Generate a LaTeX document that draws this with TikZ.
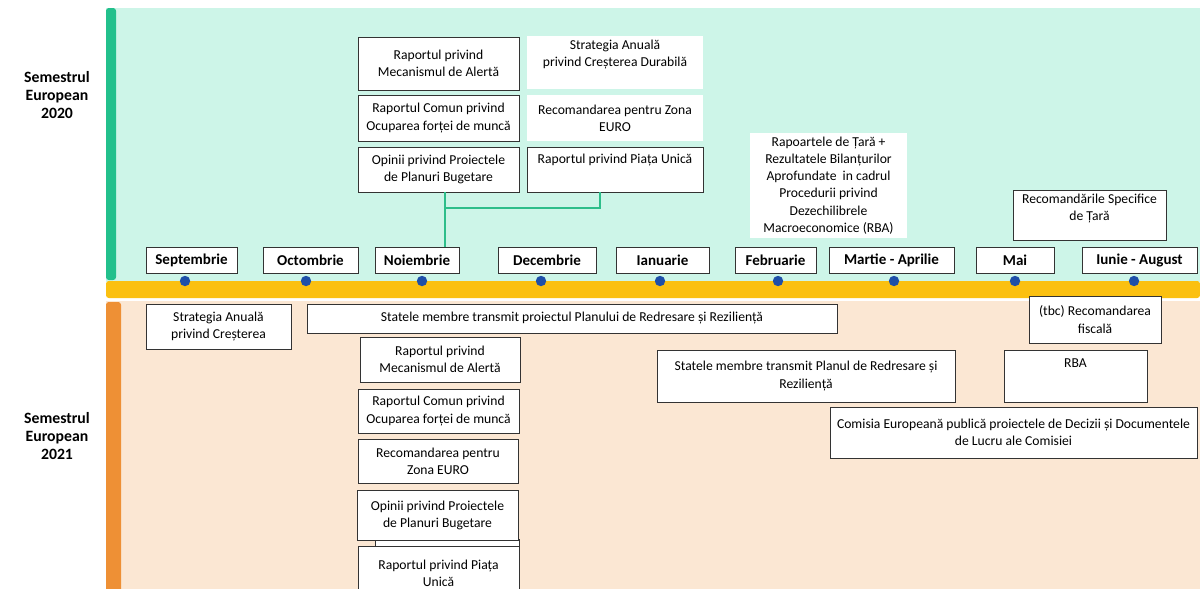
\documentclass[tikz,border=0pt]{standalone}
\usepackage{fontspec}
\setmainfont{Carlito}
\usetikzlibrary{positioning}

\definecolor{mint}{HTML}{CDF5E8}
\definecolor{greenbar}{HTML}{22C08C}
\definecolor{conngreen}{HTML}{2DBE8A}
\definecolor{bandyellow}{HTML}{FBC010}
\definecolor{peach}{HTML}{FBE7D3}
\definecolor{orangebar}{HTML}{EE9035}
\definecolor{dotblue}{HTML}{1F4FA8}
\definecolor{boxline}{HTML}{333333}

\tikzset{
	box/.style={draw=boxline, fill=white, line width=0.6pt, inner sep=1pt, align=center, font=\fontsize{9.7}{12.2}\selectfont},
	plainbox/.style={fill=white, inner sep=1pt, align=center, font=\fontsize{9.7}{12.2}\selectfont},
	txt/.style={inner sep=0pt, align=center, font=\fontsize{9.7}{12.2}\selectfont},
	month/.style={box, font=\bfseries\fontsize{10.7}{12.5}\selectfont, minimum height=0.65cm},
	dot/.style={circle, fill=dotblue, inner sep=0pt, minimum size=0.26cm},
	semlabel/.style={align=center, font=\bfseries\fontsize{11.2}{12.5}\selectfont},
	conn/.style={draw=conngreen, line width=1.1pt},
}

\begin{document}
\begin{tikzpicture}[x=0.025cm, y=-0.025cm]
	\useasboundingbox (0,0) rectangle (1200,588);
	\clip (0,0) rectangle (1200,588);
	% panels
	\fill[mint] (106,8) rectangle (1200,282);
	\fill[greenbar, rounded corners=2pt] (106,8) rectangle (116,280);
	\fill[bandyellow, rounded corners=2pt] (106,281) rectangle (1200,298);
	\fill[peach] (106,301) rectangle (1200,600);
	\fill[orangebar, rounded corners=2pt] (106,302) rectangle (121,600);
	\node[semlabel] (sem20) at (57,95) {Semestrul\\European\\2020};
	\node[semlabel] (sem21) at (57,436) {Semestrul\\European\\2021};
	% months on the timeline
	\foreach \n/\t/\x/\w/\d in {sep/Septembrie/191.5/2.275/185, oct/Octombrie/310.5/2.375/306,
		noi/Noiembrie/417/2.1/422, dec/Decembrie/547/2.45/541, ian/Ianuarie/662.5/2.325/660,
		feb/Februarie/775.5/2.025/778, mar/Martie - Aprilie/891.5/3.125/894,
		mai/Mai/1015/1.95/1015, iun/Iunie - August/1139.5/2.875/1134}
	{
		\node[month, minimum width=\w cm] (\n) at (\x,260) {\t};
		\node[dot] (d\n) at (\d,281) {};
	}
	% 2020
	\node[box, minimum width=4.025cm, minimum height=1.325cm] (mecA) at (438.5,63.5) {Raportul privind\\Mecanismul de Alertă};
	\node[box, minimum width=4.025cm, minimum height=1.15cm] (comunA) at (438.5,118) {Raportul Comun privind\\Ocuparea forței de muncă};
	\node[box, minimum width=4.025cm, minimum height=1.125cm] (opiniiA) at (438.5,169.5) {Opinii privind Proiectele\\de Planuri Bugetare};
	\node[plainbox, minimum width=4.4cm, minimum height=1.325cm] (strategA) at (615,62.5) {};
	\node[txt, below=3pt of strategA.north] (strategAt) {Strategia Anuală\\privind Creșterea Durabilă};
	\node[plainbox, minimum width=4.4cm, minimum height=1.15cm] (euroA) at (615,118) {Recomandarea pentru Zona\\EURO};
	\node[box, minimum width=4.4cm, minimum height=1.125cm] (piataA) at (615,169.5) {};
	\node[txt, below=5pt of piataA.north] (piataAt) {Raportul privind Piața Unică};
	\node[plainbox, minimum width=3.925cm, minimum height=2.625cm] (tara) at (828.5,185.5)
		{Rapoartele de Țară +\\Rezultatele Bilanțurilor\\Aprofundate~ in cadrul\\Procedurii privind\\Dezechilibrele\\Macroeconomice (RBA)};
	\node[box, minimum width=3.825cm, minimum height=1.25cm] (csr) at (1089.5,215) {};
	\node[txt, below=3pt of csr.north] (csrt) {Recomandările Specifice\\de Țară};
	\coordinate (jn) at (445,208);
	\coordinate (jr) at (600,208);
	\draw[conn] (opiniiA.south -| jn) -- (noi.north -| jn);
	\draw[conn] (jn) -- (jr) -- (piataA.south -| jr);
	% 2021
	\node[box, minimum width=3.625cm, minimum height=1.125cm] (strategB) at (218.5,326.5) {Strategia Anuală\\privind Creșterea};
	\node[box, minimum width=13.25cm, minimum height=0.725cm] (proiect) at (572,318.5) {Statele membre transmit proiectul Planului de Redresare și Reziliență};
	\node[box, minimum width=4cm, minimum height=1.125cm] (mecB) at (440,359.5) {Raportul privind\\Mecanismul de Alertă};
	\node[box, minimum width=4.025cm, minimum height=1.1cm] (comunB) at (438.5,411) {Raportul Comun privind\\Ocuparea forței de muncă};
	\node[box, minimum width=4cm, minimum height=1.1cm] (euroB) at (438,461) {Recomandarea pentru\\Zona EURO};
	\node[box, minimum width=3.6cm, minimum height=0.2cm] (sliver) at (447,543) {};
	\node[box, minimum width=4.025cm, minimum height=1.25cm] (opiniiB) at (437.5,515) {Opinii privind Proiectele\\de Planuri Bugetare};
	\node[box, minimum width=4.025cm, minimum height=1.35cm] (piataB) at (438.5,573) {Raportul privind Piața\\Unică};
	\node[box, minimum width=7.45cm, minimum height=1.3cm] (planul) at (806,376) {Statele membre transmit Planul de Redresare și\\Reziliență};
	\node[box, minimum width=3.3cm, minimum height=1.175cm] (tbc) at (1095,319.5) {(tbc) Recomandarea\\fiscală};
	\node[box, minimum width=3.575cm, minimum height=1.3cm] (rba) at (1075.5,376) {};
	\node[txt, below=6pt of rba.north] (rbat) {RBA};
	\node[box, minimum width=9.175cm, minimum height=1.275cm] (comisia) at (1013.5,432.5)
		{Comisia Europeană publică proiectele de Decizii și Documentele\\de Lucru ale Comisiei};
\end{tikzpicture}
\end{document}
